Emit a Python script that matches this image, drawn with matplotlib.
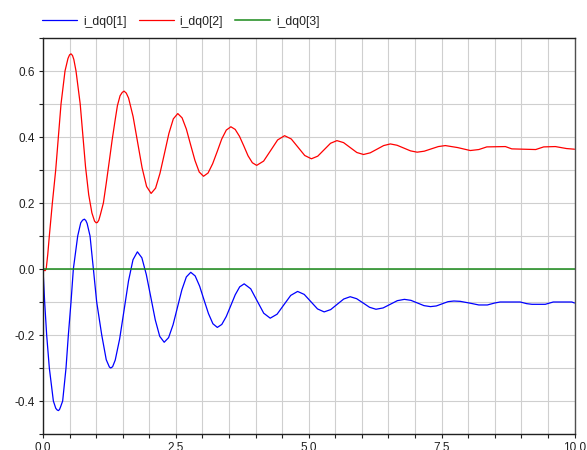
import matplotlib
matplotlib.use("Agg")
import matplotlib.pyplot as plt
from matplotlib.ticker import MultipleLocator, FormatStrFormatter

plt.rcParams['font.family'] = ['Liberation Sans', 'DejaVu Sans']
plt.rcParams['axes.unicode_minus'] = False

series_names = ["i_dq0[1]", "i_dq0[2]", "i_dq0[3]"]

t_d = [0, 0.031, 0.069, 0.119, 0.195, 0.24, 0.265, 0.289, 0.31, 0.33, 0.37, 0.433, 0.477, 0.527, 0.571, 0.653, 0.71,
       0.745, 0.778, 0.805, 0.83, 0.885, 0.948, 1.01, 1.105, 1.19, 1.249, 1.275, 1.31,
       1.359, 1.442, 1.526, 1.609, 1.693, 1.776,
       1.860, 1.944, 2.028, 2.112, 2.196, 2.28,
       2.363, 2.447, 2.530, 2.613, 2.697, 2.78,
       2.863, 2.947, 3.030, 3.113, 3.197, 3.28,
       3.364, 3.448, 3.533, 3.617, 3.701, 3.785,
       3.908, 4.030, 4.153, 4.275,
       4.404, 4.532, 4.661, 4.79,
       4.915, 5.040, 5.165, 5.29,
       5.413, 5.535, 5.658, 5.78,
       5.901, 6.023, 6.144, 6.265,
       6.399, 6.533, 6.666, 6.80,
       6.923, 7.045, 7.168, 7.29,
       7.40, 7.51, 7.62, 7.73,
       7.85, 8.05, 8.2, 8.36, 8.5, 8.6, 8.98, 9.1, 9.2, 9.45, 9.6, 9.95, 10.0]
i_d = [0, -0.1, -0.2, -0.3, -0.4, -0.422, -0.427, -0.429, -0.426, -0.418, -0.4, -0.3, -0.2, -0.1, 0.0, 0.1, 0.14,
       0.148, 0.151, 0.147, 0.138, 0.1, 0.0, -0.1, -0.2, -0.275, -0.297, -0.30, -0.296,
       -0.276, -0.212, -0.124, -0.036, 0.028, 0.052,
       0.034, -0.017, -0.085, -0.154, -0.204, -0.222,
       -0.208, -0.169, -0.116, -0.063, -0.024, -0.010,
       -0.021, -0.052, -0.094, -0.135, -0.166, -0.177,
       -0.168, -0.144, -0.111, -0.078, -0.054, -0.045,
       -0.060, -0.097, -0.134, -0.149,
       -0.137, -0.1085, -0.080, -0.068,
       -0.077, -0.099, -0.121, -0.130,
       -0.123, -0.107, -0.091, -0.084,
       -0.090, -0.103, -0.116, -0.122,
       -0.118, -0.107, -0.096, -0.092,
       -0.095, -0.103, -0.111, -0.114,
       -0.112, -0.1055, -0.099, -0.097,
       -0.098, -0.104, -0.109, -0.109, -0.103, -0.100, -0.100, -0.105, -0.107, -0.107, -0.100, -0.100, -0.103]

t_q = [0, 0.015, 0.04, 0.06, 0.09, 0.119, 0.176, 0.239, 0.289, 0.339, 0.414, 0.47, 0.50, 0.527, 0.555, 0.58, 0.621,
       0.70, 0.75, 0.80, 0.86, 0.92, 0.97, 1.0, 1.023, 1.05, 1.08, 1.136, 1.19, 1.249, 1.30, 1.356, 1.40, 1.45,
       1.49, 1.525, 1.567,
       1.610, 1.695, 1.780, 1.864, 1.949, 2.034,
       2.118, 2.201, 2.285, 2.369, 2.452, 2.536,
       2.617, 2.697, 2.778, 2.859, 2.939, 3.02,
       3.106, 3.192, 3.278, 3.363, 3.449, 3.535,
       3.616, 3.697, 3.778, 3.858, 3.939, 4.02,
       4.151, 4.283, 4.414, 4.545,
       4.671, 4.798, 4.924, 5.05,
       5.17, 5.29, 5.41, 5.53,
       5.655, 5.78, 5.905, 6.03,
       6.156, 6.283, 6.409, 6.535,
       6.661, 6.788, 6.914, 7.04,
       7.173, 7.305, 7.438, 7.57,
       7.8, 8.04, 8.2, 8.35, 8.7, 8.82, 9.27, 9.42, 9.64, 9.85, 10.0]
i_q = [0, -0.004, -0.005, 0.0, 0.045, 0.1, 0.2, 0.3, 0.4, 0.5, 0.6, 0.638, 0.649, 0.652, 0.647, 0.635, 0.6,
       0.5, 0.405, 0.31, 0.225, 0.17, 0.145, 0.140, 0.141, 0.148, 0.165, 0.2, 0.26, 0.329, 0.39, 0.45, 0.495, 0.525,
       0.535, 0.539, 0.533,
       0.518, 0.462, 0.384, 0.307, 0.250, 0.229,
       0.245, 0.290, 0.350, 0.411, 0.455, 0.471,
       0.458, 0.424, 0.376, 0.329, 0.294, 0.281,
       0.291, 0.319, 0.356, 0.394, 0.421, 0.431,
       0.423, 0.402, 0.373, 0.343, 0.322, 0.314,
       0.327, 0.359, 0.391, 0.404,
       0.394, 0.369, 0.344, 0.334,
       0.342, 0.3615, 0.381, 0.389,
       0.383, 0.368, 0.353, 0.347,
       0.352, 0.363, 0.374, 0.379,
       0.375, 0.3665, 0.358, 0.354,
       0.357, 0.364, 0.371, 0.374,
       0.368, 0.359, 0.362, 0.370, 0.371, 0.364, 0.362, 0.370, 0.371, 0.365, 0.363]

t_0 = [0.0, 10.0]
i_0 = [0.0, 0.0]

x_ticks = [0.0, 2.5, 5.0, 7.5, 10.0]
y_ticks = [-0.4, -0.2, 0.0, 0.2, 0.4, 0.6]

W, H = 587, 450
fig = plt.figure(figsize=(W / 100, H / 100), dpi=100)
ax = fig.add_axes([43 / W, 1 - 434 / H, (574.5 - 43) / W, (434 - 38) / H])

style = dict(lw=0.9, solid_joinstyle='round', solid_capstyle='round')
l1, = ax.plot(t_d, i_d, color='#0000ff', **style)
l2, = ax.plot(t_q, i_q, color='#ff0000', **style)
l3, = ax.plot(t_0, i_0, color='#1a8a1a', lw=1.1)

ax.set_xlim(0, 10)
ax.set_ylim(-0.5, 0.7)
ax.set_xticks(x_ticks)
ax.set_yticks(y_ticks)
ax.xaxis.set_minor_locator(MultipleLocator(0.5))
ax.yaxis.set_minor_locator(MultipleLocator(0.1))
ax.xaxis.set_major_formatter(FormatStrFormatter('%.1f'))
ax.yaxis.set_major_formatter(FormatStrFormatter('%.1f'))
ax.grid(True, which='both', color='#cfcfcf', lw=0.8)
ax.set_axisbelow(True)
ax.tick_params(which='both', direction='out', length=3, width=0.8, color='#202020',
               labelsize=8.5, labelcolor='#202020', pad=3)
for s in ['left', 'bottom', 'top']:
    ax.spines[s].set_color('#202020')
    ax.spines[s].set_linewidth(1.0)
ax.spines['right'].set_color('#505050')
ax.spines['right'].set_linewidth(1.0)

leg = fig.legend([l1, l2, l3], series_names, loc='center left', ncol=3, frameon=False,
                 bbox_to_anchor=(42 / W, 1 - 21.5 / H), borderpad=0, borderaxespad=0,
                 handlelength=2.9, handletextpad=0.5, columnspacing=1.0,
                 prop={'size': 8.7})
for txt in leg.get_texts():
    txt.set_color('#202020')

fig.savefig('out.png', dpi=100)
